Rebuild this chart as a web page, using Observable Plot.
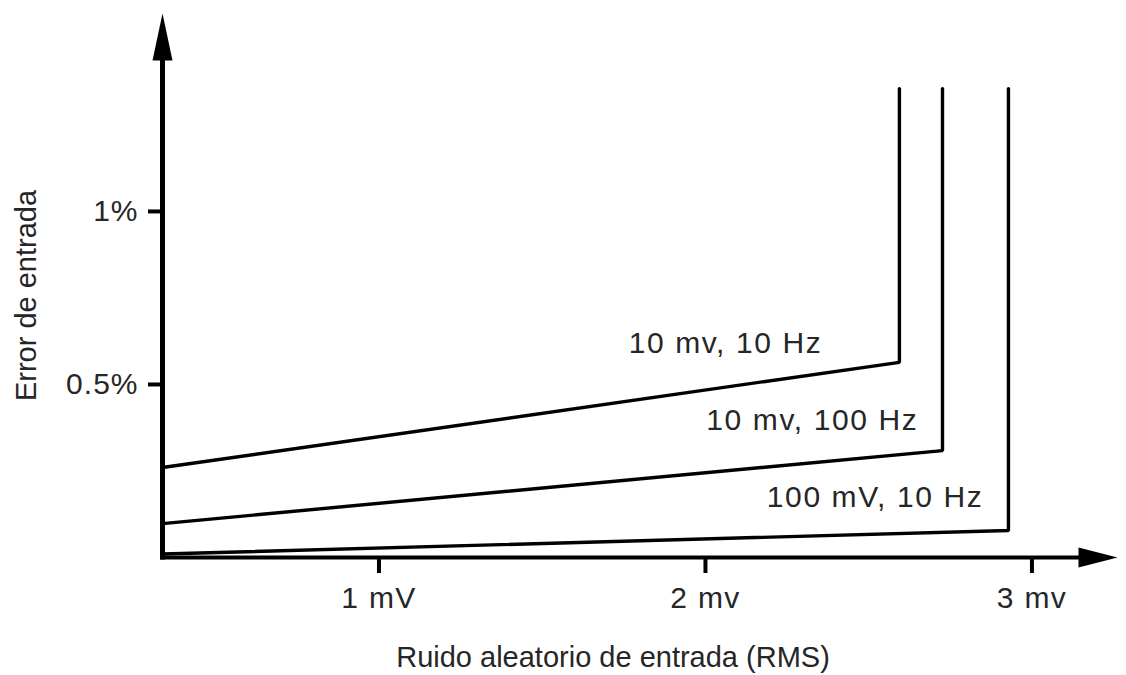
<!DOCTYPE html>
<html><head><meta charset="utf-8">
<script src="https://cdn.jsdelivr.net/npm/d3@7"></script>
<script src="https://cdn.jsdelivr.net/npm/@observablehq/plot@0.6"></script>
<style>body{margin:0;background:#fff} svg{display:block}</style>
</head><body><div id="chart"></div>
<script>
// Data
const seriesNames = ["10 mv, 10 Hz", "10 mv, 100 Hz", "100 mV, 10 Hz"];
const startError = [0.260, 0.098, 0.010];   // % at the y axis
const breakNoise = [2.594, 2.726, 2.928];   // mV where the curve turns vertical
const breakError = [0.564, 0.309, 0.078];   // % at the break
const topError = 1.355;                     // % where the vertical parts end
const originNoise = 0.337;                  // mV at the y axis
const xTicks = [1, 2, 3];
const xTickLabels = ["1 mV", "2 mv", "3 mv"];
const yTicks = [0.5, 1];
const yTickLabels = ["0.5%", "1%"];
const labelNoise = [2.358, 2.652, 2.851];
const labelError = [0.618, 0.396, 0.173];
const xTitle = "Ruido aleatorio de entrada (RMS)";
const yTitle = "Error de entrada";
const xMax = 3.262, yMax = 1.572;

const curves = seriesNames.flatMap((s, i) => [
  {s, x: originNoise, y: startError[i]},
  {s, x: breakNoise[i], y: breakError[i]},
  {s, x: breakNoise[i], y: topError}
]);
const labels = seriesNames.map((s, i) => ({s, x: labelNoise[i], y: labelError[i]}));
const xLab = new Map(xTicks.map((t, i) => [t, xTickLabels[i]]));
const yLab = new Map(yTicks.map((t, i) => [t, yTickLabels[i]]));

function arrowSymbol(len, half) {
  return {draw(ctx) { ctx.moveTo(0, 0); ctx.lineTo(half, len); ctx.lineTo(-half, len); ctx.closePath(); }};
}
const textColor = "#262626";
const font = "'Liberation Sans', Arial, sans-serif";

const chart = Plot.plot({
  width: 1126, height: 675,
  marginLeft: 162, marginRight: 9, marginTop: 13, marginBottom: 118,
  style: {fontFamily: font, background: "#fff"},
  x: {domain: [originNoise, xMax]},
  y: {domain: [0, yMax]},
  marks: [
    Plot.axisX(xTicks, {tickFormat: d => xLab.get(d), tickSize: 16, tickPadding: 13, fontSize: 30, strokeWidth: 4, stroke: "#000", fill: textColor, label: null}),
    Plot.axisY(yTicks, {tickFormat: d => yLab.get(d), tickSize: 14, tickPadding: 10, fontSize: 30, strokeWidth: 4, stroke: "#000", fill: textColor, label: null}),
    Plot.ruleY([0], {x1: originNoise, x2: 3.16, stroke: "#000", strokeWidth: 4, strokeLinecap: "square"}),
    Plot.ruleX([originNoise], {y1: 0, y2: 1.45, stroke: "#000", strokeWidth: 5, strokeLinecap: "square"}),
    Plot.dot([{x: xMax, y: 0}], {x: "x", y: "y", symbol: arrowSymbol(39, 10), rotate: 90, fill: "#000", stroke: "none", r: 10}),
    Plot.dot([{x: originNoise, y: yMax}], {x: "x", y: "y", symbol: arrowSymbol(47, 10), fill: "#000", stroke: "none", r: 10}),
    Plot.line(curves, {x: "x", y: "y", z: "s", stroke: "#000", strokeWidth: 3.4, strokeLinejoin: "miter"}),
    Plot.text(labels, {x: "x", y: "y", text: "s", textAnchor: "end", fontSize: 30, fill: textColor}),
    Plot.text([xTitle], {frameAnchor: "bottom", textAnchor: "middle", lineAnchor: "middle", dx: -27, dy: 100, fontSize: 29, fill: textColor}),
    Plot.text([yTitle], {frameAnchor: "left", textAnchor: "middle", lineAnchor: "middle", dx: -136, dy: 10, rotate: -90, fontSize: 29, fill: textColor})
  ]
});
// widen letter spacing of the series and tick labels to match the reference typography
d3.select(chart).selectAll("text").filter(function() { return seriesNames.includes(this.textContent); }).style("letter-spacing", "1.6px");
d3.select(chart).selectAll('g[aria-label="x-axis tick label"] text').style("letter-spacing", "1.4px");
d3.select(chart).selectAll('g[aria-label="y-axis tick label"] text').style("letter-spacing", "1px");
document.getElementById("chart").appendChild(chart);
</script>
</body></html>
